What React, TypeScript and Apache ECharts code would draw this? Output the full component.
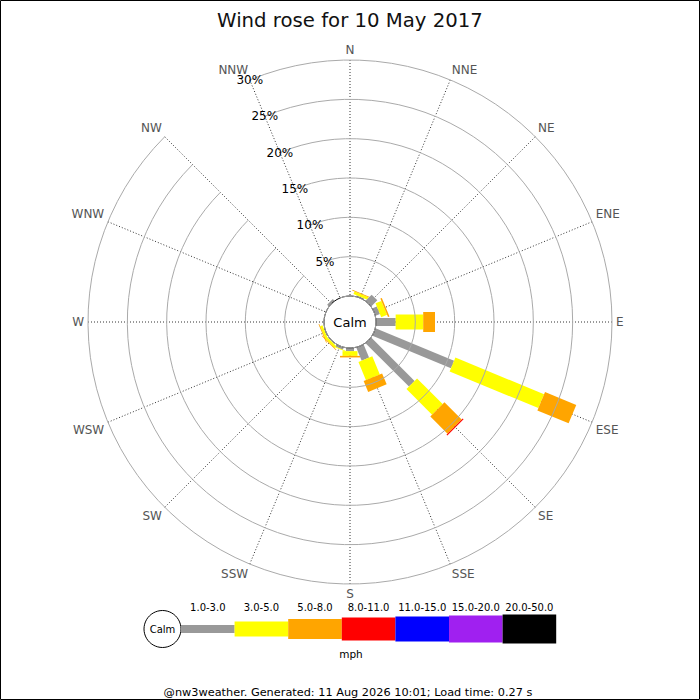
import React, { useEffect, useRef } from "react";
import * as echarts from "echarts";

// the list starts at NNW so that the radius (percent) labels sit on that spoke
const directions = ["NNW", "N", "NNE", "NE", "ENE", "E", "ESE", "SE", "SSE", "S", "SSW", "SW", "WSW", "W", "WNW", "NW"];

// percent of the day in each speed class, per direction (same order as above)
const speed1to3 = [0, 0, 0.15, 1.1, 0.6, 2.5, 10.8, 7.8, 1.8, 0.4, 0.3, 0.1, 0.1, 0, 0, 0.3];
const speed3to5 = [0, 0, 0.35, 0, 0.8, 3.5, 12.2, 4.6, 2.5, 0.6, 0.1, 0.3, 0.3, 0, 0, 0];
const speed5to8 = [0, 0, 0.1, 0, 0.2, 1.5, 4.3, 3.1, 1.5, 0.2, 0, 0.1, 0.1, 0, 0, 0];
const speed8to11 = [0, 0, 0, 0, 0, 0, 0, 0.15, 0, 0, 0, 0, 0, 0, 0, 0];
const speed11to15 = [0, 0, 0, 0, 0, 0, 0, 0, 0, 0, 0, 0, 0, 0, 0, 0];
const speed15to20 = [0, 0, 0, 0, 0, 0, 0, 0, 0, 0, 0, 0, 0, 0, 0, 0];
const speed20to50 = [0, 0, 0, 0, 0, 0, 0, 0, 0, 0, 0, 0, 0, 0, 0, 0];

const speedLabels = ["1.0-3.0", "3.0-5.0", "5.0-8.0", "8.0-11.0", "11.0-15.0", "15.0-20.0", "20.0-50.0"];

const speedColors = ["#999999", "#ffff00", "#ffa500", "#ff0000", "#0000ff", "#a020f0", "#000000"];
const barWidths = [8, 15, 20, 23, 25, 27, 29];
const FONT = "DejaVu Sans, sans-serif";

const classes = [speed1to3, speed3to5, speed5to8, speed8to11, speed11to15, speed15to20, speed20to50];

// [from %, direction, to %, class]
function buildSegments() {
  const out: number[][] = [];
  directions.forEach((_, d) => {
    let acc = 0;
    classes.forEach((vals, c) => {
      const v = vals[d];
      if (v > 0) out.push([acc, d, acc + v, c]);
      acc += v;
    });
  });
  return out;
}

const App: React.FC = () => {
  const chartRef = useRef<HTMLDivElement>(null);

  useEffect(() => {
    document.body.style.margin = "0";
    if (!chartRef.current) return;
    const chart = echarts.init(chartRef.current, null, { renderer: "svg" });

    const legendLeft = 181;
    const segW = 53.6;
    const legendY = 629;
    const legend: any[] = [
      {
        type: "circle",
        shape: { cx: 162.5, cy: legendY, r: 18.5 },
        style: { fill: "#fff", stroke: "#000", lineWidth: 1 },
      },
      {
        type: "text",
        x: 162.5,
        y: legendY,
        style: { text: "Calm", font: `10px ${FONT}`, fill: "#000", align: "center", verticalAlign: "middle" },
      },
    ];
    speedLabels.forEach((label, i) => {
      legend.push({
        type: "rect",
        shape: { x: legendLeft + i * segW, y: legendY - barWidths[i] / 2, width: segW, height: barWidths[i] },
        style: { fill: speedColors[i] },
      });
      legend.push({
        type: "text",
        x: legendLeft + i * segW + segW / 2,
        y: 607,
        style: { text: label, font: `10px ${FONT}`, fill: "#000", align: "center", verticalAlign: "middle" },
      });
    });
    legend.push(
      {
        type: "text",
        x: 351,
        y: 654,
        style: { text: "mph", font: `10.5px ${FONT}`, fill: "#000", align: "center", verticalAlign: "middle" },
      },
      {
        type: "text",
        x: 348,
        y: 692,
        style: {
          text: "@nw3weather. Generated: 11 Aug 2026 10:01; Load time: 0.27 s",
          font: `11.3px ${FONT}`,
          fill: "#000",
          align: "center",
          verticalAlign: "middle",
        },
      },
      {
        type: "rect",
        shape: { x: 0.5, y: 0.5, width: 699, height: 699 },
        style: { fill: "none", stroke: "#000", lineWidth: 1 },
        z: 100,
      }
    );

    const option: echarts.EChartsOption = {
      animation: false,
      backgroundColor: "#fff",
      title: {
        text: "Wind rose for 10 May 2017",
        left: "center",
        top: 5,
        textStyle: { fontFamily: FONT, fontSize: 19.7, fontWeight: "normal", color: "#111" },
      },
      polar: { center: [350, 322], radius: [26, 262] },
      angleAxis: {
        type: "category",
        data: directions,
        startAngle: 112.5,
        clockwise: true,
        boundaryGap: false,
        axisLine: { show: false },
        axisTick: { show: false, interval: 0 },
        axisLabel: { interval: 0, margin: 4, color: "#555", fontFamily: FONT, fontSize: 12 },
        splitLine: { show: true, interval: 0, lineStyle: { color: "#333", width: 1, type: [1, 2] } },
      },
      radiusAxis: {
        type: "value",
        min: 0,
        max: 30,
        interval: 5,
        axisLine: { show: false },
        axisTick: { show: false },
        axisLabel: {
          margin: 0,
          align: "center",
          verticalAlign: "middle",
          color: "#000",
          fontFamily: FONT,
          fontSize: 12,
          formatter: (v: number) => (v === 0 ? "" : `${v}%`),
        },
        splitLine: { show: true, lineStyle: { color: "#aaa", width: 1 } },
        z: 5,
      },
      series: [
        {
          type: "custom",
          coordinateSystem: "polar",
          data: buildSegments(),
          renderItem: (params: any, api: any) => {
            const from = api.value(0);
            const dir = api.value(1);
            const to = api.value(2);
            const cls = api.value(3);
            const a = api.coord([from, dir]);
            const b = api.coord([to, dir]);
            const dx = b[0] - a[0];
            const dy = b[1] - a[1];
            const len = Math.hypot(dx, dy);
            if (!len) return null;
            const h = barWidths[cls] / 2;
            const nx = (-dy / len) * h;
            const ny = (dx / len) * h;
            return {
              type: "polygon",
              shape: {
                points: [
                  [a[0] + nx, a[1] + ny],
                  [b[0] + nx, b[1] + ny],
                  [b[0] - nx, b[1] - ny],
                  [a[0] - nx, a[1] - ny],
                ],
              },
              style: { fill: speedColors[cls] },
            };
          },
          z: 3,
        },
        {
          // the calm circle fills the inner hole of the polar area
          type: "custom",
          coordinateSystem: "polar",
          data: [[0, 0]],
          renderItem: (params: any) => {
            const cs = params.coordSys;
            return {
              type: "group",
              children: [
                {
                  type: "circle",
                  shape: { cx: cs.cx, cy: cs.cy, r: cs.r0 },
                  style: { fill: "#fff", stroke: "#000", lineWidth: 1 },
                },
                {
                  type: "text",
                  x: cs.cx,
                  y: cs.cy,
                  style: { text: "Calm", font: `13px ${FONT}`, fill: "#000", align: "center", verticalAlign: "middle" },
                },
              ],
            };
          },
          z: 4,
        },
      ],
      graphic: legend,
    };

    chart.setOption(option);
    return () => chart.dispose();
  }, []);

  return <div ref={chartRef} style={{ width: "700px", height: "700px" }} />;
};

export default App;
